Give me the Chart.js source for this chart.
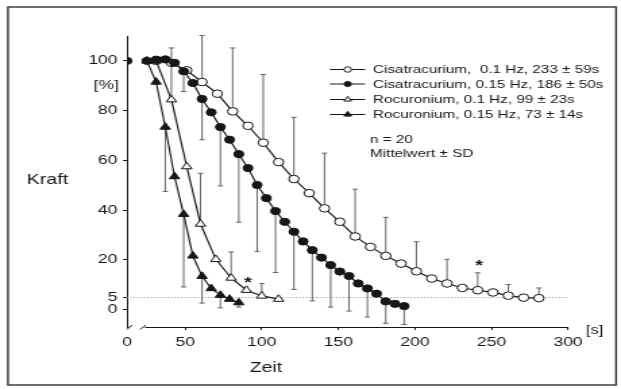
<!DOCTYPE html>
<html><head><meta charset="utf-8">
<script src="https://cdn.jsdelivr.net/npm/chart.js@4/dist/chart.umd.min.js"></script>
<style>
html,body{margin:0;padding:0;background:#fff;overflow:hidden}
</style></head>
<body><canvas id="c" width="460" height="389" style="display:block;width:621px;height:389px"></canvas>
<script>
// ---------- data (time in s, force in %) ----------
const startTime  = [0];
const startForce = [100];

const cisa01Time  = [31,41,51,61,71,81,91,101,111,121,131,141,151,161,171,181,191,201,211,221,231,241,251,261,271,281];
const cisa01Force = [100,99.2,96.2,91.5,86.8,79.7,73.9,67.1,59.3,52.5,46.8,40.7,35.3,29.4,25.2,21.6,18.5,15.4,12.5,10.5,8.7,7.8,6.9,5.6,4.8,4.6];
const cisa01Sd    = [null,null,null,18.7,null,25.5,null,27.4,null,24.8,null,22.2,null,19.0,null,15.5,null,11.9,null,9.7,null,7.0,null,4.5,null,4.1];

const cisa015Time  = [25,31,37,43,49,55,61,67,73,79,85,91,97,103,109,115,121,127,133,139,145,151,157,163,169,175,181,187,193];
const cisa015Force = [100,100.5,100.6,99.2,95.8,91.1,84.7,79.3,73.4,68.3,62.5,56.9,50.1,44.8,39.6,35.3,31.3,27.4,23.9,20.9,17.9,15.3,13.5,10.5,8.5,6.4,3.3,2.3,1.4];
const cisa015Sd    = [null,null,null,null,8.1,null,16.4,null,23.7,null,27.4,null,26.8,null,24.7,null,23.2,null,20.4,null,16.9,null,14.1,null,11.5,null,8.8,null,7.4];

const rocu01Time  = [31,41,51,60,70,80,90,100,111];
const rocu01Force = [100,84.4,57.5,34.4,20.2,12.7,7.8,5.5,4.2];
const rocu01Sd    = [null,20.8,null,20.4,null,10.5,null,5.0,null];

const rocu015Time  = [25,31,37,43,49,55,61,67,73,79,85];
const rocu015Force = [100,91.5,73.4,53.5,38.3,21.6,13.4,8.5,5.8,4.2,2.8];
const rocu015Sd    = [null,null,25.9,null,29.2,null,10.8,null,5.1,null,1.8];

const seriesLabels = [
  'Cisatracurium,  0.1 Hz, 233 \u00b1 59s',
  'Cisatracurium, 0.15 Hz, 186 \u00b1 50s',
  'Rocuronium, 0.1 Hz, 99 \u00b1 23s',
  'Rocuronium, 0.15 Hz, 73 \u00b1 14s'
];
const xTickValues = [0,50,100,150,200,250,300];
const yTickValues = [0,5,20,40,60,80,100];
const threshold = 5;
const asteriskAt = [{series:2, time:90}, {series:0, time:241}];
const noteLines = ['n = 20', 'Mittelwert \u00b1 SD'];

// ---------- layout ----------
const S = 621/460;               // horizontal stretch of the original figure
const W = 460, H = 389;
const X_MIN = 12, X_MAX = 300;   // broken axis: time 0 is drawn at the break
const Y_MIN = -7, Y_MAX = 110;
const FONT = '"Liberation Sans", Arial, Helvetica, sans-serif';
const INK = '#161616';

const pts = (ts, vs) => ts.map((t,i) => ({x: t === 0 ? X_MIN : t, y: vs[i]}));

function series(label, ts, vs, sd, dir, style, filled, radius, order){
  return {
    label, data: pts(ts, vs), sd, sdDir: dir,
    borderColor: INK, borderWidth: 1.15, tension: 0, fill: false,
    pointStyle: style, pointRadius: radius, pointBorderWidth: 1,
    pointBorderColor: INK, pointBackgroundColor: filled ? INK : '#fff',
    order
  };
}

const datasets = [
  series(seriesLabels[0], cisa01Time, cisa01Force, cisa01Sd, 1, 'circle', false, 3.8, 4),
  series(seriesLabels[1], cisa015Time, cisa015Force, cisa015Sd, -1, 'circle', true, 3.6, 1),
  series(seriesLabels[2], rocu01Time, rocu01Force, rocu01Sd, 1, 'triangle', false, 4.4, 3),
  series(seriesLabels[3], rocu015Time, rocu015Force, rocu015Sd, -1, 'triangle', true, 4.4, 2),
  {label:'', data: pts(startTime, startForce), showLine:false, pointStyle:'circle', pointRadius:3.6,
   pointBackgroundColor: INK, pointBorderColor: INK, borderColor: INK, order: 0}
];

const decor = {
  id: 'decor',
  beforeDatasetsDraw(chart){
    const {ctx, chartArea:a, scales:{x, y}} = chart;
    ctx.save();
    // 5 % dotted reference line
    const yt = Math.round(y.getPixelForValue(threshold)) + 0.5;
    ctx.strokeStyle = '#9a9a9a'; ctx.lineWidth = 1; ctx.setLineDash([1,1.5]);
    ctx.beginPath(); ctx.moveTo(a.left, yt); ctx.lineTo(a.right, yt); ctx.stroke();
    ctx.setLineDash([]);
    // error bars (one-sided)
    ctx.strokeStyle = '#555'; ctx.lineWidth = 0.9;
    chart.data.datasets.forEach(ds => {
      if (!ds.sd) return;
      ds.data.forEach((p, i) => {
        const sd = ds.sd[i];
        if (sd == null) return;
        const px = x.getPixelForValue(p.x);
        const y0 = y.getPixelForValue(p.y);
        const y1 = y.getPixelForValue(p.y + ds.sdDir * sd);
        ctx.beginPath();
        ctx.moveTo(px, y0); ctx.lineTo(px, y1);
        ctx.moveTo(px - 2, y1); ctx.lineTo(px + 2, y1);
        ctx.stroke();
      });
    });
    ctx.restore();
  },
  afterDraw(chart){
    const {ctx, chartArea:a, scales:{x, y}} = chart;
    ctx.save();
    // frame
    ctx.strokeStyle = '#333'; ctx.lineWidth = 1.4;
    ctx.strokeRect(8/S, 7, (616-8)/S, 378);
    // x axis with break
    ctx.strokeStyle = INK; ctx.lineWidth = 1;
    const yb = a.bottom + 0.5;
    ctx.beginPath();
    ctx.moveTo(145/S, yb); ctx.lineTo(a.right, yb);
    ctx.moveTo(127/S, yb + 2); ctx.lineTo(132/S, yb - 2.5);
    ctx.moveTo(140/S, yb + 2); ctx.lineTo(146/S, yb - 2.5);
    ctx.stroke();
    // asterisks
    ctx.fillStyle = INK; ctx.textAlign = 'center'; ctx.textBaseline = 'middle';
    ctx.font = 'bold 15px ' + FONT;
    asteriskAt.forEach(m => {
      const ds = chart.data.datasets[m.series];
      const i = ds.data.findIndex(p => p.x === m.time);
      const p = ds.data[i];
      const top = ds.sd[i] != null && ds.sdDir > 0 ? p.y + ds.sd[i] : p.y;
      ctx.fillText('*', x.getPixelForValue(p.x) + 1, y.getPixelForValue(top) - 7);
    });
    // texts
    ctx.font = '14.5px ' + FONT; ctx.textAlign = 'center';
    ctx.fillText('Kraft', 47.5/S, 180);
    ctx.fillText('Zeit', 266/S, 368);
    ctx.font = '13px ' + FONT; ctx.textAlign = 'right';
    ctx.fillText('[%]', 119/S, 85);
    ctx.textAlign = 'left'; ctx.font = '12px ' + FONT;
    ctx.fillText('[s]', 586/S, 331);
    // legend
    ctx.font = '11.3px ' + FONT;
    const rows = [69.5, 84, 99.5, 114.5];
    chart.data.datasets.slice(0,4).forEach((ds, k) => {
      const yy = rows[k];
      ctx.strokeStyle = INK; ctx.lineWidth = 1;
      ctx.beginPath(); ctx.moveTo(330/S, yy); ctx.lineTo(365/S, yy); ctx.stroke();
      ctx.fillStyle = ds.pointBackgroundColor; ctx.strokeStyle = INK;
      Chart.helpers.drawPoint(ctx, {pointStyle: ds.pointStyle, rotation: 0, radius: ds.pointRadius * 0.72, borderWidth: 1}, 347.7/S, yy);
      ctx.fillStyle = INK; ctx.textAlign = 'left';
      ctx.fillText(ds.label, 373/S, yy + 0.5);
    });
    ctx.fillText(noteLines[0], 370/S, 140);
    ctx.fillText(noteLines[1], 370/S, 154);
    ctx.restore();
  }
};

new Chart(document.getElementById('c'), {
  type: 'line',
  data: { datasets },
  plugins: [decor],
  options: {
    responsive: false, animation: false, devicePixelRatio: 1,
    layout: { padding: { left: 0, right: W - 568/S, top: 36, bottom: 0 } },
    plugins: { legend: { display: false }, tooltip: { enabled: false } },
    scales: {
      x: {
        type: 'linear', min: X_MIN, max: X_MAX,
        afterBuildTicks(s){ s.ticks = xTickValues.map(v => ({value: v === 0 ? X_MIN : v})); },
        afterFit(s){ s.height = H - 327; },
        border: { display: false },
        grid: { drawOnChartArea: false, tickLength: 3, color: c => (c.tick && c.tick.value === X_MIN) ? 'rgba(0,0,0,0)' : INK },
        ticks: { autoSkip: false, maxRotation: 0, padding: 5, color: INK,
                 font: { family: FONT, size: 13 },
                 callback: v => v === X_MIN ? '0' : String(v) }
      },
      y: {
        min: Y_MIN, max: Y_MAX,
        afterBuildTicks(s){ s.ticks = yTickValues.map(v => ({value: v})); },
        afterFit(s){ s.width = 127/S; },
        border: { display: true, color: INK, width: 1 },
        grid: { drawOnChartArea: false, tickLength: 3, color: INK },
        ticks: { autoSkip: false, padding: 4, color: INK, font: { family: FONT, size: 13 } }
      }
    }
  }
});
</script>
</body></html>
